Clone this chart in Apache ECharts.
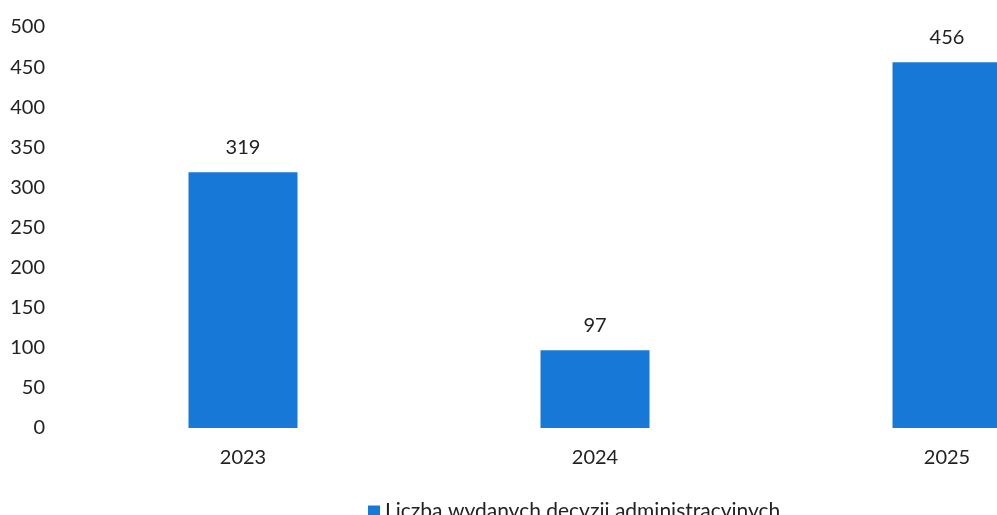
<!DOCTYPE html>
<html><head><meta charset="utf-8">
<script src="https://cdn.jsdelivr.net/npm/echarts@6/dist/echarts.min.js"></script>
<style>html,body{margin:0;padding:0;background:#fff}#c{width:997px;height:515px}</style>
</head><body><div id="c"></div>
<script>
const categories = ['2023', '2024', '2025'];
const values = [319, 97, 456];
const seriesName = 'Liczba wydanych decyzji administracyjnych';
const yTicks = { min: 0, max: 500, interval: 50 };

const chart = echarts.init(document.getElementById('c'));
const font = 'Lato, "Open Sans", sans-serif';
const idx = categories.map((c, i) => i);
chart.setOption({
  animation: false,
  textStyle: { fontFamily: font },
  grid: { left: 67, top: 27, right: 0, bottom: 87, containLabel: false },
  legend: {
    data: [seriesName], left: 363, top: 496, itemWidth: 12, itemHeight: 12, itemGap: 5,
    icon: 'rect',
    textStyle: { fontSize: 21, color: '#222', fontFamily: font }
  },
  xAxis: {
    type: 'value', min: -0.5, max: 2.142,
    splitLine: { show: false }, axisLine: { show: false }, axisTick: { show: false },
    axisLabel: { customValues: idx, formatter: v => categories[Math.round(v)], fontSize: 20, color: '#222', margin: 20 }
  },
  yAxis: {
    type: 'value', min: yTicks.min, max: yTicks.max, interval: yTicks.interval,
    splitLine: { show: false }, axisLine: { show: false }, axisTick: { show: false },
    axisLabel: { fontSize: 20, color: '#222', margin: 22 }
  },
  series: [{
    name: seriesName, type: 'bar', data: values.map((v, i) => [idx[i], v]), barWidth: 109,
    itemStyle: { color: '#1878d8' },
    label: { show: true, position: 'top', distance: 15, fontSize: 20, color: '#222', formatter: p => p.value[1] }
  }]
});
</script></body></html>
